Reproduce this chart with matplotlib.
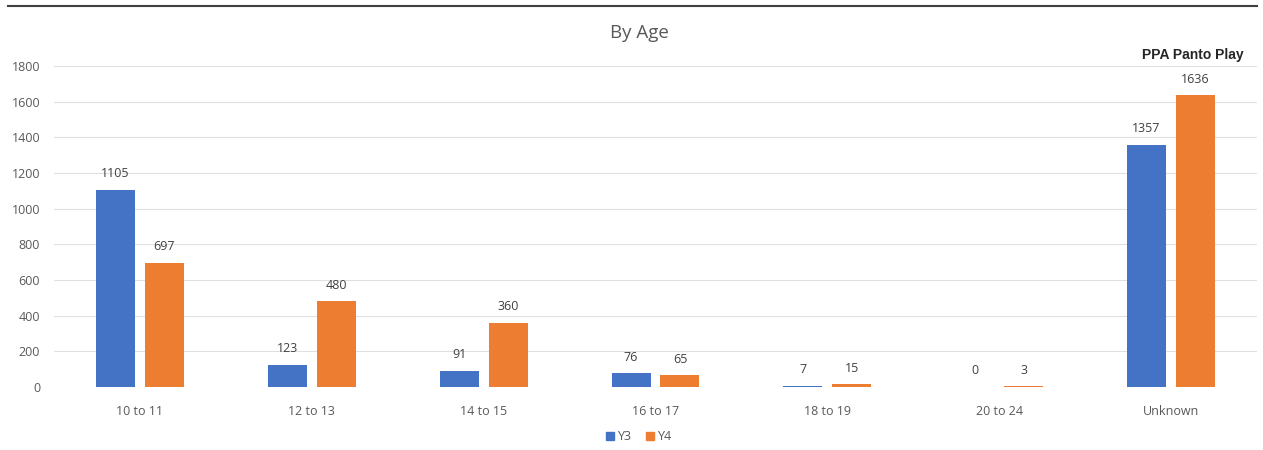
import numpy as np
import matplotlib.pyplot as plt
from matplotlib.lines import Line2D

categories = ["10 to 11", "12 to 13", "14 to 15", "16 to 17", "18 to 19", "20 to 24", "Unknown"]
y3 = [1105, 123, 91, 76, 7, 0, 1357]
y4 = [697, 480, 360, 65, 15, 3, 1636]
yticks = [0, 200, 400, 600, 800, 1000, 1200, 1400, 1600, 1800]

blue = "#4472C4"
orange = "#ED7D31"
txt = "#595959"

plt.rcParams['font.family'] = ['Open Sans', 'DejaVu Sans']

fig = plt.figure(figsize=(12.63, 4.5), dpi=100)
ax = fig.add_axes([54 / 1263, 1 - 387 / 450, (1257 - 54) / 1263, 321 / 450])

x = np.arange(len(categories))
w = 0.227
off = 0.1425
b3 = ax.bar(x - off, y3, w, color=blue, linewidth=0, label="Y3", zorder=3)
b4 = ax.bar(x + off, y4, w, color=orange, linewidth=0, label="Y4", zorder=3)

for bars, vals in ((b3, y3), (b4, y4)):
    for r, v in zip(bars, vals):
        ax.annotate(str(v), (r.get_x() + r.get_width() / 2, v), xytext=(0, 7),
                    textcoords="offset points", ha="center", va="bottom",
                    fontsize=9, color="#404040")

ax.set_xlim(-0.5, len(categories) - 0.5)
ax.set_ylim(0, 1800)
ax.set_yticks(yticks)
ax.set_xticks(x)
ax.set_xticklabels(categories)
ax.tick_params(axis="both", length=0, labelsize=9, colors=txt)
ax.tick_params(axis="x", pad=13)
ax.tick_params(axis="y", pad=10)
ax.yaxis.grid(True, color="#e0e0e0", linewidth=0.8, zorder=0)
for s in ax.spines.values():
    s.set_visible(False)

fig.text(639 / 1263, 1 - 33 / 450, "By Age", ha="center", va="center", fontsize=13.5, color=txt)
fig.text(1193 / 1263, 1 - 55 / 450, "PPA Panto Play", ha="center", va="center",
         fontsize=10, fontweight="bold", color="#262626", family="Liberation Sans")

handles = [Line2D([], [], marker="s", linestyle="none", markersize=6, color=blue, label="Y3"),
           Line2D([], [], marker="s", linestyle="none", markersize=6, color=orange, label="Y4")]
fig.legend(handles=handles, loc="center", bbox_to_anchor=(638 / 1263, 1 - 437 / 450), ncol=2,
           frameon=False, fontsize=9, labelcolor=txt, handletextpad=0.1, columnspacing=1.0,
           handlelength=1)

fig.add_artist(Line2D([8 / 1263, 1257 / 1263], [1 - 6 / 450, 1 - 6 / 450], color="#404040", linewidth=1.5))

fig.savefig("out.png", dpi=100, facecolor="white")
